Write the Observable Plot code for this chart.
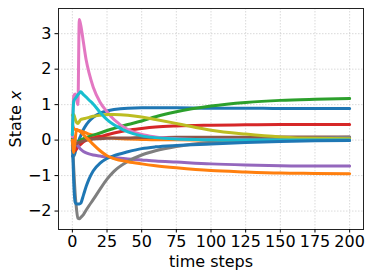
<!DOCTYPE html>
<html><head><meta charset="utf-8">
<script src="https://cdn.jsdelivr.net/npm/d3@7"></script>
<script src="https://cdn.jsdelivr.net/npm/@observablehq/plot@0.6"></script>
<style>html,body{margin:0;padding:0;background:#fff}svg{display:block}</style>
</head><body><div id="chart"></div>
<script>
const steps      = [0, 1, 2, 3, 4, 5, 6, 8, 10, 12, 15, 20, 25, 30, 40, 50, 60, 75, 100, 125, 150, 175, 200];
const blueUpper  = [-0.45,-0.45,-0.35,-0.2,-0.08,0.03,0.12,0.3,0.43,0.53,0.64,0.76,0.82,0.86,0.9,0.91,0.91,0.91,0.9,0.9,0.89,0.89,0.89];
const orangeA    = [0.45,0.33,0.3,0.29,0.28,0.27,0.26,0.23,0.2,0.17,0.14,0.1,0.07,0.05,0.03,0.02,0.01,0.01,0.0,0.0,0.0,0.0,0.0];
const green      = [0.05,0.0,-0.05,-0.05,-0.04,-0.02,0.0,0.04,0.07,0.1,0.14,0.2,0.27,0.33,0.44,0.54,0.66,0.8,0.96,1.06,1.12,1.15,1.17];
const red        = [-0.3,-0.32,-0.3,-0.25,-0.2,-0.15,-0.12,-0.05,0.0,0.03,0.06,0.1,0.15,0.2,0.28,0.33,0.37,0.4,0.42,0.43,0.44,0.44,0.44];
const purple     = [0.15,0.08,0.0,-0.08,-0.15,-0.21,-0.26,-0.32,-0.36,-0.39,-0.42,-0.45,-0.48,-0.5,-0.53,-0.56,-0.59,-0.62,-0.67,-0.7,-0.72,-0.73,-0.73];
const brown      = [-0.15,-0.14,-0.12,-0.1,-0.08,-0.06,-0.05,-0.02,0.0,0.01,0.03,0.04,0.05,0.06,0.06,0.07,0.07,0.08,0.08,0.08,0.09,0.09,0.09];
const pink       = [0.1,1.25,1.3,1.15,1.0,3.4,3.25,2.75,2.25,1.9,1.5,1.07,0.8,0.58,0.3,0.16,0.09,0.04,0.01,0.0,0.0,0.0,0.0];
const gray       = [0.0,-0.8,-1.5,-1.95,-2.2,-2.22,-2.18,-2.1,-1.97,-1.85,-1.68,-1.38,-1.1,-0.88,-0.6,-0.42,-0.3,-0.18,-0.06,0.0,0.04,0.06,0.08];
const olive      = [0.7,0.72,0.6,0.5,0.47,0.52,0.58,0.6,0.62,0.64,0.67,0.7,0.72,0.72,0.7,0.65,0.58,0.47,0.28,0.17,0.09,0.05,0.04];
const cyan       = [0.15,1.1,1.17,1.22,1.28,1.32,1.36,1.28,1.21,1.13,1.02,0.78,0.58,0.43,0.23,0.12,0.07,0.03,0.01,0.0,0.0,0.0,0.0];
const blueLower  = [0.0,-1.2,-1.75,-1.8,-1.8,-1.8,-1.78,-1.55,-1.3,-1.1,-0.87,-0.65,-0.52,-0.44,-0.33,-0.24,-0.19,-0.15,-0.11,-0.07,-0.04,-0.02,-0.01];
const orangeB    = [0.0,-0.35,0.0,0.3,0.28,0.26,0.23,0.15,0.07,0.0,-0.12,-0.3,-0.44,-0.52,-0.61,-0.67,-0.72,-0.78,-0.86,-0.9,-0.93,-0.94,-0.95];

const seriesNames  = ["s0","s1","s2","s3","s4","s5","s6","s7","s8","s9","s10","s11"];
const seriesValues = [blueUpper, orangeA, green, red, purple, brown, pink, gray, olive, cyan, blueLower, orangeB];
const seriesColors = ["#1f77b4","#ff7f0e","#2ca02c","#d62728","#9467bd","#8c564b","#e377c2","#7f7f7f","#bcbd22","#17becf","#1f77b4","#ff7f0e"];
const xTicks = [0,25,50,75,100,125,150,175,200];
const yTicks = [-2,-1,0,1,2,3];
const xLabel = "time steps";
const yLabel = "State x";

const rows = [];
seriesValues.forEach((vals, i) => vals.forEach((v, j) => rows.push({series: seriesNames[i], t: steps[j], x: v})));

const fmt = d3.format("d");
const chart = Plot.plot({
  width: 374, height: 280,
  marginLeft: 58, marginRight: 11, marginTop: 8, marginBottom: 51,
  style: {fontFamily: "DejaVu Sans", fontSize: "16px", background: "#fff", color: "#000"},
  x: {domain: [-10, 210]},
  y: {domain: [-2.52, 3.71]},
  color: {domain: seriesNames, range: seriesColors},
  marks: [
    Plot.gridX(xTicks, {stroke: "#b0b0b0", strokeOpacity: 0.6, strokeDasharray: "1.5,1.5", strokeWidth: 0.8}),
    Plot.gridY(yTicks, {stroke: "#b0b0b0", strokeOpacity: 0.6, strokeDasharray: "1.5,1.5", strokeWidth: 0.8}),
    Plot.line(rows, {x: "t", y: "x", z: "series", stroke: "series", strokeWidth: 3, curve: "monotone-x"}),
    Plot.frame({stroke: "#222", strokeWidth: 1}),
    Plot.axisX(xTicks, {tickSize: 3.5, tickPadding: 3, fontSize: 16, tickFormat: fmt, label: xLabel, labelAnchor: "center", labelOffset: 37, labelArrow: "none"}),
    Plot.axisY(yTicks, {tickSize: 3.5, tickPadding: 3.5, fontSize: 16, tickFormat: fmt, label: yLabel, labelAnchor: "center", labelOffset: 49, labelArrow: "none"})
  ]
});
document.getElementById("chart").appendChild(chart);
chart.querySelectorAll('[aria-label$="axis label"] text').forEach(t => { t.textContent = t.textContent.replace(/[\u2190-\u2193]/g, "").trim(); });
const yl = chart.querySelector('[aria-label="y-axis label"] text');
if (yl) {
  yl.textContent = "State ";
  const ts = document.createElementNS("http://www.w3.org/2000/svg", "tspan");
  ts.setAttribute("font-style", "italic");
  ts.textContent = "x";
  yl.appendChild(ts);
}
</script>
</body></html>
